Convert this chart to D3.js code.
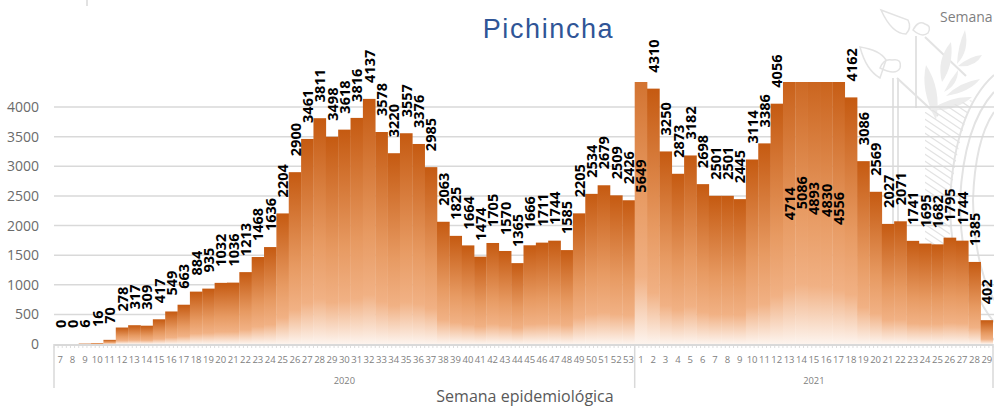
<!DOCTYPE html>
<html>
<head>
<meta charset="utf-8">
<script src="https://cdn.jsdelivr.net/npm/d3@7"></script>
<style>
  body { margin: 0; background: #fff; overflow: hidden; }
  svg { display: block; }
  text { font-family: "Open Sans", sans-serif; }
</style>
</head>
<body>
<div id="chart"></div>
<script>
// --- donnees ---
const semanas2020 = [7,8,9,10,11,12,13,14,15,16,17,18,19,20,21,22,23,24,25,26,27,28,29,30,31,32,33,34,35,36,37,38,39,40,41,42,43,44,45,46,47,48,49,50,51,52,53];
const casos2020 = [0,0,6,16,70,278,317,309,417,549,663,884,935,1032,1036,1213,1468,1636,2204,2900,3461,3811,3498,3618,3816,4137,3578,3220,3557,3376,2985,2063,1825,1664,1474,1705,1570,1365,1666,1711,1744,1585,2205,2534,2679,2509,2426];
const semanas2021 = [1,2,3,4,5,6,7,8,9,10,11,12,13,14,15,16,17,18,19,20,21,22,23,24,25,26,27,28,29];
const casos2021 = [5649,4310,3250,2873,3182,2698,2501,2501,2445,3114,3386,4056,4714,5086,4893,4830,4556,4162,3086,2569,2027,2071,1741,1695,1682,1795,1744,1385,402];
const ticksY = [0,500,1000,1500,2000,2500,3000,3500,4000];

// on garde l'annee + la semaine pour chaque barre
const filas = [
  ...semanas2020.map((s, i) => ({ anio: 2020, semana: s, valor: casos2020[i] })),
  ...semanas2021.map((s, i) => ({ anio: 2021, semana: s, valor: casos2021[i] }))
];

const largeur = 994, hauteur = 406;
const gauche = 54, droite = 993, base = 344, y4000 = 107, hautPlot = 82;

const svg = d3.select("#chart").append("svg")
  .attr("width", largeur)
  .attr("height", hauteur);

const x = d3.scaleBand()
  .domain(d3.range(filas.length))
  .range([gauche, droite])
  .padding(0);

const y = d3.scaleLinear().domain([0, 4000]).range([base, y4000]);
const valeurMax = y.invert(hautPlot);

const defs = svg.append("defs");
const grad = defs.append("linearGradient")
  .attr("id", "degrade").attr("x1", 0).attr("y1", 0).attr("x2", 0).attr("y2", 1);
grad.append("stop").attr("offset", "0").attr("stop-color", "#c55a11");
grad.append("stop").attr("offset", "0.55").attr("stop-color", "#e79a62");
grad.append("stop").attr("offset", "0.8").attr("stop-color", "#f1b184");
grad.append("stop").attr("offset", "1").attr("stop-color", "#fdf4ee");

defs.append("clipPath").attr("id", "zone")
  .append("rect")
  .attr("x", gauche).attr("y", hautPlot)
  .attr("width", droite - gauche).attr("height", base - hautPlot);

// zone du blason hachuree
defs.append("clipPath").attr("id", "zoneHachures")
  .append("path")
  .attr("d", "M925 112 L972 100 Q948 170 950 240 Q952 295 975 340 L925 340 Z");

// --- filigrane (blason) ---
const filigrane = svg.append("g")
  .attr("fill", "none").attr("stroke", "#e3e3e3").attr("stroke-width", 2);
// tiges et branches
filigrane.append("path").attr("d", "M916 36 V108 M925 37 L966 76 M893 78 V340 M898 78 V340 M897 78 L938 116");
// feuilles et fleurs (contour)
filigrane.append("path").attr("stroke-width", 1.5)
  .attr("d", "M881 10 L908 20 Q912 28 906 34 Q892 34 881 10 Z M860 47 Q880 50 886 60 L880 78 Q866 70 860 47 Z");
filigrane.append("path").attr("stroke-width", 1.5)
  .attr("d", "M913 30 Q918 20 925 24 Q932 26 928 33 Q922 38 913 30 Z M880 68 Q884 58 892 60 Q902 58 900 68 Q896 76 880 68 Z");
// feuilles pleines
filigrane.append("path").attr("fill", "#ececec").attr("stroke", "none")
  .attr("d", "M942 82 Q936 60 951 42 Q954 65 942 82 Z M957 64 Q958 45 965 30 Q970 50 957 64 Z M958 66 Q970 56 982 55 Q975 68 958 66 Z M936 120 Q920 90 926 65 Q942 90 936 120 Z M944 92 Q950 80 958 70 Q958 85 944 92 Z M946 96 Q960 82 980 79 Q970 92 946 96 Z M930 110 Q950 96 972 97 Q955 112 930 110 Z");
// hachures
filigrane.append("g").attr("clip-path", "url(#zoneHachures)")
  .attr("stroke-width", 1.2)
  .selectAll("line").data(d3.range(0, 48))
  .join("line")
  .attr("x1", 920).attr("x2", 980)
  .attr("y1", i => 60 + i * 7).attr("y2", i => 100 + i * 7);
// grands arcs
filigrane.append("path").attr("d", "M994 75 Q955 110 950 200 Q950 290 994 340 M994 92 Q964 125 960 200 Q960 280 994 322 M994 112 Q975 140 973 200 Q974 265 994 300");

// --- grille ---
svg.append("g").selectAll("line")
  .data(ticksY.filter(d => d > 0))
  .join("line")
  .attr("x1", gauche).attr("x2", largeur)
  .attr("y1", d => y(d)).attr("y2", d => y(d))
  .attr("stroke", "#d9d9d9").attr("stroke-width", 1.5);

// --- barres ---
svg.append("g").attr("clip-path", "url(#zone)")
  .selectAll("rect")
  .data(filas)
  .join("rect")
  .attr("x", (d, i) => x(i))
  .attr("width", x.bandwidth() + 0.3)
  .attr("y", d => y(d.valor))
  .attr("height", d => base - y(d.valor))
  .attr("fill", "url(#degrade)");

// --- axe Y ---
svg.append("g").selectAll("text")
  .data(ticksY)
  .join("text")
  .attr("x", 39).attr("y", d => y(d) + 5)
  .attr("text-anchor", "end")
  .attr("font-size", 14)
  .attr("fill", "#6b6b6b")
  .text(d => d);

// --- axe X ---
const axeX = svg.append("g");
axeX.append("line")
  .attr("x1", gauche).attr("x2", droite)
  .attr("y1", base + 1).attr("y2", base + 1)
  .attr("stroke", "#d9d9d9").attr("stroke-width", 2);
// petits traits sous l'axe (3 par semaine)
axeX.selectAll(".petit").data(d3.range(filas.length * 3 + 1))
  .join("line").attr("class", "petit")
  .attr("x1", i => gauche + i * x.step() / 3).attr("x2", i => gauche + i * x.step() / 3)
  .attr("y1", base + 2).attr("y2", base + 4)
  .attr("stroke", "#dddddd");
axeX.selectAll(".semana").data(filas)
  .join("text").attr("class", "semana")
  .attr("x", (d, i) => x(i) + x.bandwidth() / 2)
  .attr("y", 362.5)
  .attr("text-anchor", "middle")
  .attr("font-size", 9.5)
  .attr("fill", "#808080")
  .text(d => d.semana);

// separations et annees
const nb2020 = semanas2020.length;
axeX.selectAll(".sep").data([0, nb2020, filas.length])
  .join("line").attr("class", "sep")
  .attr("x1", i => gauche + i * x.step()).attr("x2", i => gauche + i * x.step())
  .attr("y1", base).attr("y2", 388)
  .attr("stroke", "#d9d9d9").attr("stroke-width", 1.5);
axeX.selectAll(".anio").data([[2020, 0, nb2020], [2021, nb2020, filas.length]])
  .join("text").attr("class", "anio")
  .attr("x", d => gauche + (d[1] + d[2]) / 2 * x.step())
  .attr("y", 383.5)
  .attr("text-anchor", "middle")
  .attr("font-size", 9.3)
  .attr("fill", "#808080")
  .text(d => d[0]);

// --- etiquettes de valeur ---
// barre coupee par le haut : etiquette au milieu de la barre, sinon au-dessus
svg.append("g").selectAll("text")
  .data(filas)
  .join("text")
  .attr("transform", (d, i) => {
    const cx = x(i) + x.bandwidth() / 2 + 5.6;
    return d.valor > valeurMax
      ? `translate(${cx},${y(d.valor / 2) + 16}) rotate(-90)`
      : `translate(${cx},${y(d.valor) - 16}) rotate(-90)`;
  })
  .attr("font-size", 14.5)
  .attr("font-weight", 700)
  .attr("fill", "#000")
  .text(d => d.valor);

// --- titres ---
svg.append("text")
  .attr("x", 548.5).attr("y", 37.5)
  .attr("text-anchor", "middle")
  .attr("font-size", 27)
  .attr("letter-spacing", 1.6)
  .attr("fill", "#2f5597")
  .style("font-family", "'Liberation Sans', sans-serif")
  .text("Pichincha");

svg.append("text")
  .attr("x", 525).attr("y", 402)
  .attr("text-anchor", "middle")
  .attr("font-size", 16)
  .attr("fill", "#595959")
  .text("Semana epidemiológica");

// morceau de titre coupe en haut a droite + petit trait en haut
svg.append("text")
  .attr("x", 940).attr("y", 22)
  .attr("font-size", 14)
  .attr("fill", "#7f7f7f")
  .text("Semana");
svg.append("line")
  .attr("x1", 87).attr("x2", 87).attr("y1", 0).attr("y2", 6)
  .attr("stroke", "#d9d9d9").attr("stroke-width", 1.5);
</script>
</body>
</html>
